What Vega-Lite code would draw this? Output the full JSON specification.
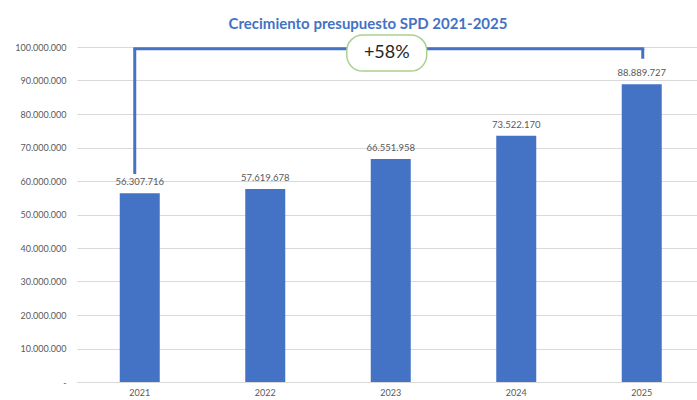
{
  "$schema": "https://vega.github.io/schema/vega-lite/v6.json",
  "width": 620,
  "height": 335,
  "autosize": {"type": "none"},
  "padding": {"left": 77, "top": 47, "right": 0, "bottom": 18},
  "background": "white",
  "title": {
    "text": "Crecimiento presupuesto SPD 2021-2025",
    "font": "Lato",
    "fontSize": 15,
    "fontWeight": "bold",
    "color": "#4472C4",
    "anchor": "middle",
    "dx": -19,
    "offset": 2
  },
  "config": {
    "view": {"stroke": null},
    "font": "Lato"
  },
  "datasets": {
    "budget": [
      {"year": "2021", "value": 56307716},
      {"year": "2022", "value": 57619678},
      {"year": "2023", "value": 66551958},
      {"year": "2024", "value": 73522170},
      {"year": "2025", "value": 88889727}
    ]
  },
  "encoding": {
    "x": {
      "field": "year",
      "type": "ordinal",
      "scale": {"domain": ["2021", "2022", "2023", "2024", "2025"], "range": [0, 627.5], "paddingInner": 0.68, "paddingOuter": 0.34},
      "axis": {
        "title": null,
        "labelAngle": 0,
        "domain": true,
        "domainColor": "#D9D9D9",
        "ticks": false,
        "labelColor": "#595959",
        "labelFontSize": 9,
        "labelPadding": 6,
        "labelFont": "Lato"
      }
    },
    "y": {
      "field": "value",
      "type": "quantitative",
      "scale": {"domain": [0, 100000000], "nice": false},
      "axis": {
        "title": null,
        "values": [0, 10000000, 20000000, 30000000, 40000000, 50000000, 60000000, 70000000, 80000000, 90000000, 100000000],
        "labelExpr": "datum.value == 0 ? '-' : replace(format(datum.value, ','), /,/g, '.')",
        "labelOverlap": false,
        "domain": false,
        "ticks": false,
        "gridColor": "#D9D9D9",
        "labelColor": "#595959",
        "labelFontSize": 9,
        "labelPadding": 11,
        "labelFont": "Lato"
      }
    }
  },
  "layer": [
    {
      "data": {"name": "budget"},
      "mark": {"type": "bar", "color": "#4472C4", "width": 40}
    },
    {
      "data": {"name": "budget"},
      "mark": {"type": "text", "baseline": "bottom", "dy": -6, "fontSize": 9.5, "color": "#595959"},
      "encoding": {
        "text": {"field": "label"}
      },
      "transform": [
        {"calculate": "replace(format(datum.value, ','), /,/g, '.')", "as": "label"}
      ]
    },
    {
      "data": {"values": [{"year": "2021", "end": "2025", "value": 99500000}]},
      "mark": {"type": "rule", "color": "#4472C4", "strokeWidth": 3, "xOffset": -5, "x2Offset": 1, "strokeCap": "square"},
      "encoding": {
        "x2": {"field": "end"}
      }
    },
    {
      "data": {"values": [{"year": "2021", "value": 99500000, "value2": 62100000}]},
      "mark": {"type": "rule", "color": "#4472C4", "strokeWidth": 3, "xOffset": -5},
      "encoding": {
        "y2": {"field": "value2"}
      }
    },
    {
      "data": {"values": [{"year": "2025", "value": 99500000, "value2": 96500000}]},
      "mark": {"type": "rule", "color": "#4472C4", "strokeWidth": 3, "xOffset": 1},
      "encoding": {
        "y2": {"field": "value2"}
      }
    },
    {
      "data": {"values": [{"year": "2023", "value": 103600000, "value2": 92800000}]},
      "mark": {"type": "bar", "width": 80, "fill": "white", "stroke": "#A9D18E", "strokeWidth": 1.5, "cornerRadius": 16, "xOffset": -4},
      "encoding": {
        "y2": {"field": "value2"}
      }
    },
    {
      "data": {"values": [{"year": "2023", "label": "+58%", "value": 98200000}]},
      "mark": {"type": "text", "fontSize": 18, "color": "#262626", "baseline": "middle", "dx": -4, "font": "Lato"},
      "encoding": {
        "text": {"field": "label"}
      }
    }
  ]
}
